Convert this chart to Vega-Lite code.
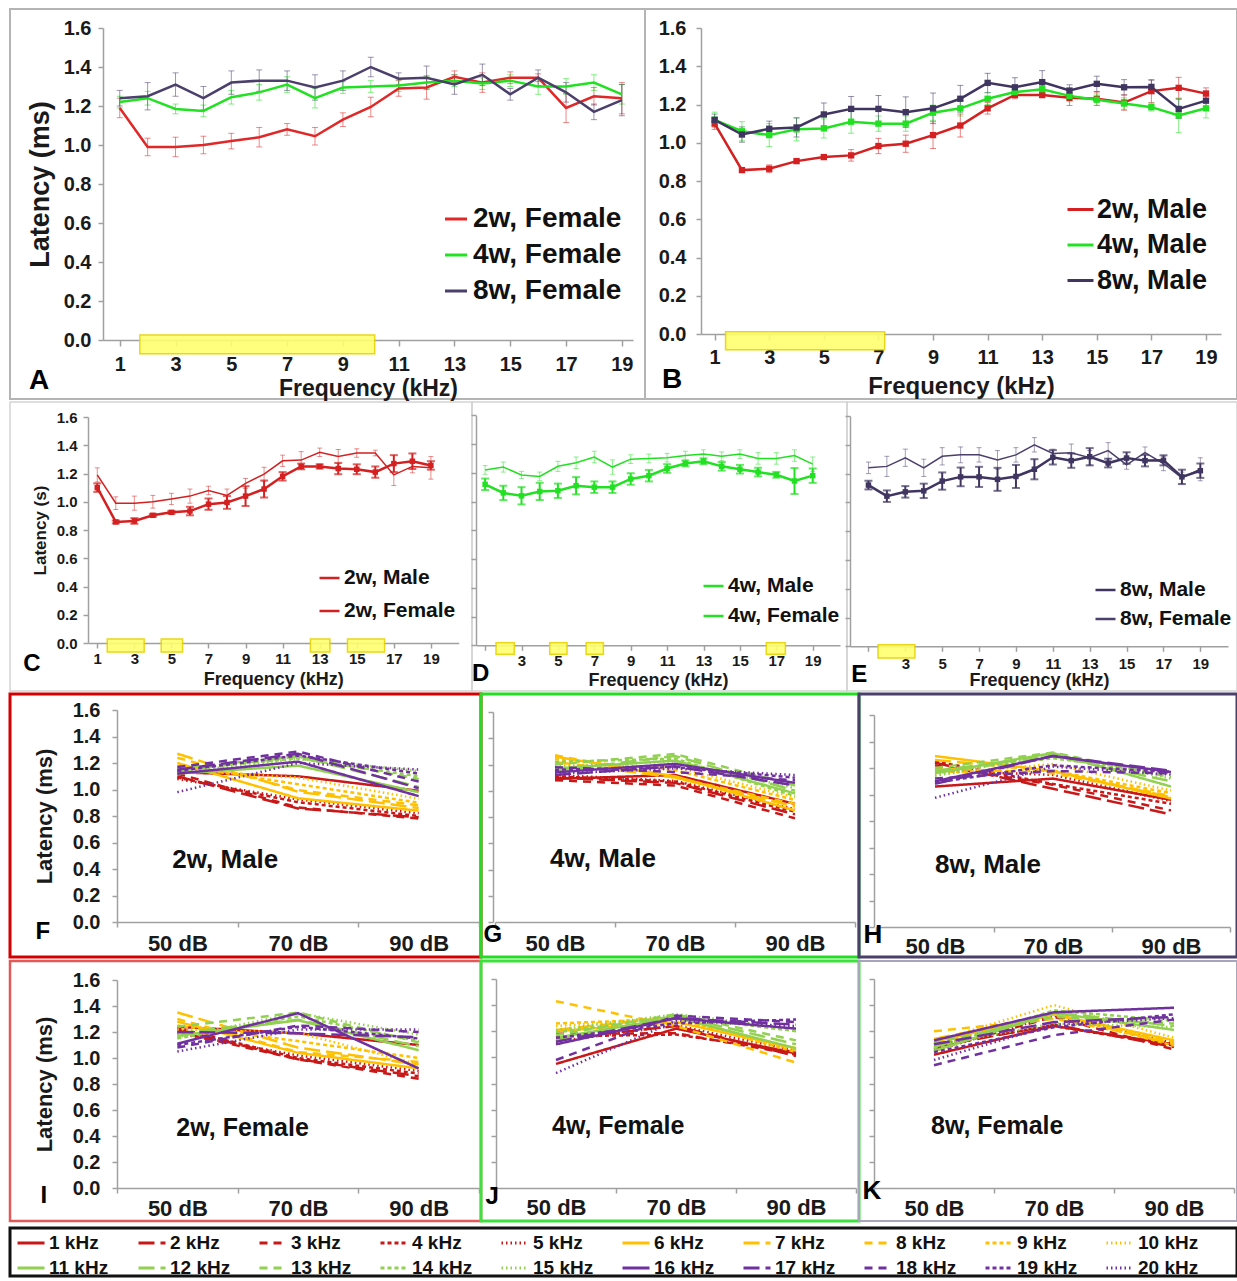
{
"$schema": "https://vega.github.io/schema/vega-lite/v6.json",
"padding": {"left": 8, "top": 8, "right": 0, "bottom": 0},
"config": {
 "font": "Liberation Sans",
 "view": {"stroke": null},
 "axis": {"grid": false, "domainColor": "#a0a0a0", "tickColor": "#a0a0a0", "domainWidth": 1.5, "tickWidth": 1.5, "labelColor": "#1a1a1a", "titleColor": "#1a1a1a", "labelFontWeight": "bold", "titleFontWeight": "bold", "labelFont": "Liberation Sans", "titleFont": "Liberation Sans", "labelAngle": 0, "labelOverlap": false, "labelFlush": false, "labelBound": false},
 "legend": {"labelFont": "Liberation Sans"}
},
"datasets": {
 "ab": [
  {"s":"2w, Female","f":1,"v":1.19,"e":0.05},{"s":"2w, Female","f":2,"v":0.99,"e":0.045},{"s":"2w, Female","f":3,"v":0.99,"e":0.05},{"s":"2w, Female","f":4,"v":1.0,"e":0.045},{"s":"2w, Female","f":5,"v":1.02,"e":0.04},{"s":"2w, Female","f":6,"v":1.04,"e":0.05},{"s":"2w, Female","f":7,"v":1.08,"e":0.03},{"s":"2w, Female","f":8,"v":1.045,"e":0.045},{"s":"2w, Female","f":9,"v":1.13,"e":0.035},{"s":"2w, Female","f":10,"v":1.195,"e":0.05},{"s":"2w, Female","f":11,"v":1.29,"e":0.04},{"s":"2w, Female","f":12,"v":1.295,"e":0.06},{"s":"2w, Female","f":13,"v":1.35,"e":0.03},{"s":"2w, Female","f":14,"v":1.32,"e":0.05},{"s":"2w, Female","f":15,"v":1.345,"e":0.03},{"s":"2w, Female","f":16,"v":1.345,"e":0.02},{"s":"2w, Female","f":17,"v":1.19,"e":0.075},{"s":"2w, Female","f":18,"v":1.25,"e":0.045},{"s":"2w, Female","f":19,"v":1.24,"e":0.08},
  {"s":"4w, Female","f":1,"v":1.22,"e":0.03},{"s":"4w, Female","f":2,"v":1.24,"e":0.035},{"s":"4w, Female","f":3,"v":1.185,"e":0.025},{"s":"4w, Female","f":4,"v":1.175,"e":0.03},{"s":"4w, Female","f":5,"v":1.245,"e":0.035},{"s":"4w, Female","f":6,"v":1.27,"e":0.04},{"s":"4w, Female","f":7,"v":1.31,"e":0.04},{"s":"4w, Female","f":8,"v":1.24,"e":0.05},{"s":"4w, Female","f":9,"v":1.295,"e":0.03},{"s":"4w, Female","f":10,"v":1.3,"e":0.03},{"s":"4w, Female","f":11,"v":1.305,"e":0.03},{"s":"4w, Female","f":12,"v":1.32,"e":0.03},{"s":"4w, Female","f":13,"v":1.33,"e":0.03},{"s":"4w, Female","f":14,"v":1.315,"e":0.03},{"s":"4w, Female","f":15,"v":1.33,"e":0.03},{"s":"4w, Female","f":16,"v":1.3,"e":0.04},{"s":"4w, Female","f":17,"v":1.3,"e":0.04},{"s":"4w, Female","f":18,"v":1.32,"e":0.04},{"s":"4w, Female","f":19,"v":1.26,"e":0.05},
  {"s":"8w, Female","f":1,"v":1.24,"e":0.04},{"s":"8w, Female","f":2,"v":1.25,"e":0.07},{"s":"8w, Female","f":3,"v":1.31,"e":0.06},{"s":"8w, Female","f":4,"v":1.24,"e":0.06},{"s":"8w, Female","f":5,"v":1.32,"e":0.06},{"s":"8w, Female","f":6,"v":1.33,"e":0.055},{"s":"8w, Female","f":7,"v":1.33,"e":0.05},{"s":"8w, Female","f":8,"v":1.295,"e":0.065},{"s":"8w, Female","f":9,"v":1.33,"e":0.05},{"s":"8w, Female","f":10,"v":1.4,"e":0.05},{"s":"8w, Female","f":11,"v":1.34,"e":0.03},{"s":"8w, Female","f":12,"v":1.345,"e":0.06},{"s":"8w, Female","f":13,"v":1.31,"e":0.05},{"s":"8w, Female","f":14,"v":1.36,"e":0.055},{"s":"8w, Female","f":15,"v":1.26,"e":0.03},{"s":"8w, Female","f":16,"v":1.345,"e":0.04},{"s":"8w, Female","f":17,"v":1.27,"e":0.05},{"s":"8w, Female","f":18,"v":1.17,"e":0.04},{"s":"8w, Female","f":19,"v":1.23,"e":0.08},
  {"s":"2w, Male","f":1,"v":1.1,"e":0.03},{"s":"2w, Male","f":2,"v":0.857,"e":0.01},{"s":"2w, Male","f":3,"v":0.864,"e":0.02},{"s":"2w, Male","f":4,"v":0.904,"e":0.01},{"s":"2w, Male","f":5,"v":0.925,"e":0.01},{"s":"2w, Male","f":6,"v":0.934,"e":0.03},{"s":"2w, Male","f":7,"v":0.983,"e":0.04},{"s":"2w, Male","f":8,"v":0.995,"e":0.045},{"s":"2w, Male","f":9,"v":1.04,"e":0.07},{"s":"2w, Male","f":10,"v":1.09,"e":0.06},{"s":"2w, Male","f":11,"v":1.18,"e":0.03},{"s":"2w, Male","f":12,"v":1.25,"e":0.02},{"s":"2w, Male","f":13,"v":1.25,"e":0.015},{"s":"2w, Male","f":14,"v":1.235,"e":0.04},{"s":"2w, Male","f":15,"v":1.23,"e":0.035},{"s":"2w, Male","f":16,"v":1.21,"e":0.04},{"s":"2w, Male","f":17,"v":1.27,"e":0.06},{"s":"2w, Male","f":18,"v":1.287,"e":0.055},{"s":"2w, Male","f":19,"v":1.257,"e":0.03},
  {"s":"4w, Male","f":1,"v":1.12,"e":0.04},{"s":"4w, Male","f":2,"v":1.06,"e":0.05},{"s":"4w, Male","f":3,"v":1.04,"e":0.06},{"s":"4w, Male","f":4,"v":1.07,"e":0.06},{"s":"4w, Male","f":5,"v":1.075,"e":0.05},{"s":"4w, Male","f":6,"v":1.11,"e":0.06},{"s":"4w, Male","f":7,"v":1.1,"e":0.04},{"s":"4w, Male","f":8,"v":1.1,"e":0.04},{"s":"4w, Male","f":9,"v":1.157,"e":0.04},{"s":"4w, Male","f":10,"v":1.18,"e":0.04},{"s":"4w, Male","f":11,"v":1.23,"e":0.03},{"s":"4w, Male","f":12,"v":1.265,"e":0.02},{"s":"4w, Male","f":13,"v":1.28,"e":0.02},{"s":"4w, Male","f":14,"v":1.245,"e":0.03},{"s":"4w, Male","f":15,"v":1.225,"e":0.03},{"s":"4w, Male","f":16,"v":1.205,"e":0.03},{"s":"4w, Male","f":17,"v":1.186,"e":0.02},{"s":"4w, Male","f":18,"v":1.143,"e":0.09},{"s":"4w, Male","f":19,"v":1.18,"e":0.05},
  {"s":"8w, Male","f":1,"v":1.12,"e":0.03},{"s":"8w, Male","f":2,"v":1.043,"e":0.04},{"s":"8w, Male","f":3,"v":1.073,"e":0.04},{"s":"8w, Male","f":4,"v":1.08,"e":0.05},{"s":"8w, Male","f":5,"v":1.148,"e":0.06},{"s":"8w, Male","f":6,"v":1.177,"e":0.065},{"s":"8w, Male","f":7,"v":1.177,"e":0.07},{"s":"8w, Male","f":8,"v":1.16,"e":0.08},{"s":"8w, Male","f":9,"v":1.18,"e":0.08},{"s":"8w, Male","f":10,"v":1.23,"e":0.07},{"s":"8w, Male","f":11,"v":1.313,"e":0.05},{"s":"8w, Male","f":12,"v":1.29,"e":0.05},{"s":"8w, Male","f":13,"v":1.317,"e":0.06},{"s":"8w, Male","f":14,"v":1.273,"e":0.03},{"s":"8w, Male","f":15,"v":1.308,"e":0.04},{"s":"8w, Male","f":16,"v":1.29,"e":0.04},{"s":"8w, Male","f":17,"v":1.292,"e":0.035},{"s":"8w, Male","f":18,"v":1.177,"e":0.05},{"s":"8w, Male","f":19,"v":1.22,"e":0.05}
 ],
 "sig": [
  {"p":"A","x1":1.72,"x2":10.14},
  {"p":"B","x1":1.4,"x2":7.23},
  {"p":"C","x1":1.54,"x2":3.53},{"p":"C","x1":4.45,"x2":5.6},{"p":"C","x1":12.5,"x2":13.55},{"p":"C","x1":14.5,"x2":16.5},
  {"p":"D","x1":1.6,"x2":2.6},{"p":"D","x1":4.55,"x2":5.5},{"p":"D","x1":6.55,"x2":7.5},{"p":"D","x1":16.45,"x2":17.5},
  {"p":"E","x1":1.52,"x2":3.52}
 ],
 "db": [
  {"p":"F","k":"1 kHz","50 dB":1.13,"70 dB":1.1,"90 dB":0.99},{"p":"F","k":"2 kHz","50 dB":1.1,"70 dB":0.857,"90 dB":0.79},{"p":"F","k":"3 kHz","50 dB":1.12,"70 dB":0.864,"90 dB":0.78},{"p":"F","k":"4 kHz","50 dB":1.09,"70 dB":0.904,"90 dB":0.8},{"p":"F","k":"5 kHz","50 dB":1.08,"70 dB":0.925,"90 dB":0.82},
  {"p":"F","k":"6 kHz","50 dB":1.2,"70 dB":0.934,"90 dB":0.84},{"p":"F","k":"7 kHz","50 dB":1.27,"70 dB":0.983,"90 dB":0.86},{"p":"F","k":"8 kHz","50 dB":1.24,"70 dB":0.995,"90 dB":0.88},{"p":"F","k":"9 kHz","50 dB":1.18,"70 dB":1.04,"90 dB":0.9},{"p":"F","k":"10 kHz","50 dB":1.15,"70 dB":1.09,"90 dB":0.93},
  {"p":"F","k":"11 kHz","50 dB":1.12,"70 dB":1.18,"90 dB":0.98},{"p":"F","k":"12 kHz","50 dB":1.14,"70 dB":1.25,"90 dB":1.02},{"p":"F","k":"13 kHz","50 dB":1.16,"70 dB":1.25,"90 dB":1.08},{"p":"F","k":"14 kHz","50 dB":1.15,"70 dB":1.235,"90 dB":1.1},{"p":"F","k":"15 kHz","50 dB":1.13,"70 dB":1.23,"90 dB":1.14},
  {"p":"F","k":"16 kHz","50 dB":1.12,"70 dB":1.21,"90 dB":0.95},{"p":"F","k":"17 kHz","50 dB":1.15,"70 dB":1.27,"90 dB":1.01},{"p":"F","k":"18 kHz","50 dB":1.17,"70 dB":1.287,"90 dB":1.06},{"p":"F","k":"19 kHz","50 dB":1.14,"70 dB":1.257,"90 dB":1.12},{"p":"F","k":"20 kHz","50 dB":0.98,"70 dB":1.2,"90 dB":1.15},
  {"p":"G","k":"1 kHz","50 dB":1.09,"70 dB":1.12,"90 dB":0.9},{"p":"G","k":"2 kHz","50 dB":1.1,"70 dB":1.06,"90 dB":0.82},{"p":"G","k":"3 kHz","50 dB":1.08,"70 dB":1.04,"90 dB":0.79},{"p":"G","k":"4 kHz","50 dB":1.11,"70 dB":1.07,"90 dB":0.84},{"p":"G","k":"5 kHz","50 dB":1.12,"70 dB":1.075,"90 dB":0.86},
  {"p":"G","k":"6 kHz","50 dB":1.26,"70 dB":1.11,"90 dB":0.85},{"p":"G","k":"7 kHz","50 dB":1.22,"70 dB":1.1,"90 dB":0.88},{"p":"G","k":"8 kHz","50 dB":1.27,"70 dB":1.1,"90 dB":0.9},{"p":"G","k":"9 kHz","50 dB":1.24,"70 dB":1.157,"90 dB":0.93},{"p":"G","k":"10 kHz","50 dB":1.2,"70 dB":1.18,"90 dB":0.95},
  {"p":"G","k":"11 kHz","50 dB":1.17,"70 dB":1.23,"90 dB":0.98},{"p":"G","k":"12 kHz","50 dB":1.15,"70 dB":1.265,"90 dB":1.0},{"p":"G","k":"13 kHz","50 dB":1.2,"70 dB":1.28,"90 dB":1.04},{"p":"G","k":"14 kHz","50 dB":1.22,"70 dB":1.245,"90 dB":0.96},{"p":"G","k":"15 kHz","50 dB":1.18,"70 dB":1.225,"90 dB":1.02},
  {"p":"G","k":"16 kHz","50 dB":1.14,"70 dB":1.205,"90 dB":1.06},{"p":"G","k":"17 kHz","50 dB":1.12,"70 dB":1.186,"90 dB":1.04},{"p":"G","k":"18 kHz","50 dB":1.18,"70 dB":1.143,"90 dB":1.08},{"p":"G","k":"19 kHz","50 dB":1.16,"70 dB":1.18,"90 dB":1.1},{"p":"G","k":"20 kHz","50 dB":1.13,"70 dB":1.17,"90 dB":1.12},
  {"p":"H","k":"1 kHz","50 dB":1.06,"70 dB":1.12,"90 dB":0.96},{"p":"H","k":"2 kHz","50 dB":1.24,"70 dB":1.043,"90 dB":0.85},{"p":"H","k":"3 kHz","50 dB":1.22,"70 dB":1.073,"90 dB":0.88},{"p":"H","k":"4 kHz","50 dB":1.25,"70 dB":1.08,"90 dB":0.93},{"p":"H","k":"5 kHz","50 dB":1.18,"70 dB":1.148,"90 dB":0.95},
  {"p":"H","k":"6 kHz","50 dB":1.29,"70 dB":1.177,"90 dB":0.97},{"p":"H","k":"7 kHz","50 dB":1.26,"70 dB":1.177,"90 dB":0.98},{"p":"H","k":"8 kHz","50 dB":1.2,"70 dB":1.16,"90 dB":0.99},{"p":"H","k":"9 kHz","50 dB":1.17,"70 dB":1.18,"90 dB":1.01},{"p":"H","k":"10 kHz","50 dB":1.15,"70 dB":1.23,"90 dB":1.03},
  {"p":"H","k":"11 kHz","50 dB":1.16,"70 dB":1.313,"90 dB":1.06},{"p":"H","k":"12 kHz","50 dB":1.18,"70 dB":1.29,"90 dB":1.1},{"p":"H","k":"13 kHz","50 dB":1.2,"70 dB":1.317,"90 dB":1.13},{"p":"H","k":"14 kHz","50 dB":1.17,"70 dB":1.273,"90 dB":1.16},{"p":"H","k":"15 kHz","50 dB":1.14,"70 dB":1.308,"90 dB":1.12},
  {"p":"H","k":"16 kHz","50 dB":1.1,"70 dB":1.29,"90 dB":1.17},{"p":"H","k":"17 kHz","50 dB":1.08,"70 dB":1.292,"90 dB":1.18},{"p":"H","k":"18 kHz","50 dB":1.12,"70 dB":1.177,"90 dB":1.16},{"p":"H","k":"19 kHz","50 dB":1.09,"70 dB":1.22,"90 dB":1.17},{"p":"H","k":"20 kHz","50 dB":0.975,"70 dB":1.21,"90 dB":1.15},
  {"p":"I","k":"1 kHz","50 dB":1.24,"70 dB":1.19,"90 dB":1.1},{"p":"I","k":"2 kHz","50 dB":1.22,"70 dB":0.99,"90 dB":0.86},{"p":"I","k":"3 kHz","50 dB":1.2,"70 dB":0.99,"90 dB":0.84},{"p":"I","k":"4 kHz","50 dB":1.23,"70 dB":1.0,"90 dB":0.88},{"p":"I","k":"5 kHz","50 dB":1.19,"70 dB":1.02,"90 dB":0.9},
  {"p":"I","k":"6 kHz","50 dB":1.28,"70 dB":1.04,"90 dB":0.92},{"p":"I","k":"7 kHz","50 dB":1.35,"70 dB":1.08,"90 dB":0.95},{"p":"I","k":"8 kHz","50 dB":1.3,"70 dB":1.045,"90 dB":0.97},{"p":"I","k":"9 kHz","50 dB":1.25,"70 dB":1.13,"90 dB":1.0},{"p":"I","k":"10 kHz","50 dB":1.22,"70 dB":1.195,"90 dB":0.95},
  {"p":"I","k":"11 kHz","50 dB":1.17,"70 dB":1.29,"90 dB":1.06},{"p":"I","k":"12 kHz","50 dB":1.19,"70 dB":1.295,"90 dB":1.09},{"p":"I","k":"13 kHz","50 dB":1.24,"70 dB":1.35,"90 dB":1.12},{"p":"I","k":"14 kHz","50 dB":1.15,"70 dB":1.32,"90 dB":1.13},{"p":"I","k":"15 kHz","50 dB":1.16,"70 dB":1.345,"90 dB":1.18},
  {"p":"I","k":"16 kHz","50 dB":1.11,"70 dB":1.345,"90 dB":0.92},{"p":"I","k":"17 kHz","50 dB":1.2,"70 dB":1.19,"90 dB":1.16},{"p":"I","k":"18 kHz","50 dB":1.08,"70 dB":1.25,"90 dB":1.2},{"p":"I","k":"19 kHz","50 dB":1.1,"70 dB":1.24,"90 dB":1.15},{"p":"I","k":"20 kHz","50 dB":1.05,"70 dB":1.22,"90 dB":1.22},
  {"p":"J","k":"1 kHz","50 dB":0.95,"70 dB":1.22,"90 dB":1.03},{"p":"J","k":"2 kHz","50 dB":1.14,"70 dB":1.24,"90 dB":1.01},{"p":"J","k":"3 kHz","50 dB":1.18,"70 dB":1.185,"90 dB":1.02},{"p":"J","k":"4 kHz","50 dB":1.16,"70 dB":1.175,"90 dB":1.04},{"p":"J","k":"5 kHz","50 dB":1.12,"70 dB":1.245,"90 dB":1.05},
  {"p":"J","k":"6 kHz","50 dB":1.2,"70 dB":1.27,"90 dB":1.07},{"p":"J","k":"7 kHz","50 dB":1.21,"70 dB":1.31,"90 dB":1.06},{"p":"J","k":"8 kHz","50 dB":1.43,"70 dB":1.24,"90 dB":0.96},{"p":"J","k":"9 kHz","50 dB":1.26,"70 dB":1.295,"90 dB":1.04},{"p":"J","k":"10 kHz","50 dB":1.24,"70 dB":1.3,"90 dB":1.05},
  {"p":"J","k":"11 kHz","50 dB":1.15,"70 dB":1.305,"90 dB":1.07},{"p":"J","k":"12 kHz","50 dB":1.13,"70 dB":1.32,"90 dB":1.1},{"p":"J","k":"13 kHz","50 dB":1.17,"70 dB":1.33,"90 dB":1.13},{"p":"J","k":"14 kHz","50 dB":1.19,"70 dB":1.315,"90 dB":1.2},{"p":"J","k":"15 kHz","50 dB":1.21,"70 dB":1.33,"90 dB":1.22},
  {"p":"J","k":"16 kHz","50 dB":1.1,"70 dB":1.3,"90 dB":1.22},{"p":"J","k":"17 kHz","50 dB":1.12,"70 dB":1.3,"90 dB":1.25},{"p":"J","k":"18 kHz","50 dB":0.98,"70 dB":1.32,"90 dB":1.27},{"p":"J","k":"19 kHz","50 dB":1.15,"70 dB":1.26,"90 dB":1.29},{"p":"J","k":"20 kHz","50 dB":0.88,"70 dB":1.28,"90 dB":1.24},
  {"p":"K","k":"1 kHz","50 dB":1.02,"70 dB":1.24,"90 dB":1.1},{"p":"K","k":"2 kHz","50 dB":1.08,"70 dB":1.25,"90 dB":1.08},{"p":"K","k":"3 kHz","50 dB":1.06,"70 dB":1.31,"90 dB":1.06},{"p":"K","k":"4 kHz","50 dB":1.1,"70 dB":1.24,"90 dB":1.09},{"p":"K","k":"5 kHz","50 dB":1.05,"70 dB":1.32,"90 dB":1.11},
  {"p":"K","k":"6 kHz","50 dB":1.12,"70 dB":1.33,"90 dB":1.13},{"p":"K","k":"7 kHz","50 dB":1.14,"70 dB":1.33,"90 dB":1.1},{"p":"K","k":"8 kHz","50 dB":1.2,"70 dB":1.295,"90 dB":1.12},{"p":"K","k":"9 kHz","50 dB":1.1,"70 dB":1.33,"90 dB":1.09},{"p":"K","k":"10 kHz","50 dB":1.12,"70 dB":1.4,"90 dB":1.15},
  {"p":"K","k":"11 kHz","50 dB":1.05,"70 dB":1.34,"90 dB":1.21},{"p":"K","k":"12 kHz","50 dB":1.08,"70 dB":1.345,"90 dB":1.24},{"p":"K","k":"13 kHz","50 dB":1.11,"70 dB":1.31,"90 dB":1.26},{"p":"K","k":"14 kHz","50 dB":1.07,"70 dB":1.36,"90 dB":1.28},{"p":"K","k":"15 kHz","50 dB":1.09,"70 dB":1.26,"90 dB":1.23},
  {"p":"K","k":"16 kHz","50 dB":1.13,"70 dB":1.345,"90 dB":1.38},{"p":"K","k":"17 kHz","50 dB":1.1,"70 dB":1.27,"90 dB":1.31},{"p":"K","k":"18 kHz","50 dB":0.94,"70 dB":1.17,"90 dB":1.29},{"p":"K","k":"19 kHz","50 dB":1.04,"70 dB":1.23,"90 dB":1.33},{"p":"K","k":"20 kHz","50 dB":0.98,"70 dB":1.25,"90 dB":1.3}
 ]
},
"spacing": 0,
"bounds": "full",
"resolve": {"scale": {"color": "independent", "strokeDash": "independent"}},
"vconcat": [
 {
  "spacing": 0, "bounds": "flush",
  "resolve": {"scale": {"color": "independent", "strokeDash": "independent"}},
  "hconcat": [
   {
    "width": 635, "height": 390,
    "view": {"stroke": "#b4b4b4", "strokeWidth": 2},
    "layer": [
     {"data": {"name": "sig"}, "transform": [{"filter": "datum.p == 'A'"}], "mark": {"type": "rect", "stroke": "#e8d400", "strokeWidth": 1.5, "opacity": 0.9},
      "encoding": {"x": {"field": "x1", "type": "quantitative", "title": "Frequency (kHz)"}, "x2": {"field": "x2"},
       "y": {"datum": 0.026, "axis": {"values": [0,0.2,0.4,0.6,0.8,1,1.2,1.4,1.6], "format": ".1f", "labelOverlap": false, "offset": -93, "tickSize": 5, "labelPadding": 7, "labelFontSize": 20, "title": "Latency (ms)", "titleFontSize": 27, "titlePadding": 9}},
       "y2": {"datum": -0.07}, "color": {"value": "#ffff70"}}},
     {"data": {"name": "ab"}, "transform": [{"filter": "indexof(datum.s, 'Female') >= 0"}],
      "encoding": {
       "x": {"field": "f", "type": "quantitative", "scale": {"domain": [0.4, 19.4], "range": [93, 623], "nice": false, "zero": false},
         "axis": {"values": [1,2,3,4,5,6,7,8,9,10,11,12,13,14,15,16,17,18,19], "labelExpr": "datum.value % 2 == 1 ? datum.label : ''", "offset": -59, "tickSize": 6, "labelPadding": 8, "labelFontSize": 20, "title": "Frequency (kHz)", "titleFontSize": 23, "titlePadding": 3}},
       "y": {"field": "v", "type": "quantitative", "scale": {"domain": [0, 1.6], "range": [331, 19], "nice": false, "zero": false},
         "axis": {"values": [0,0.2,0.4,0.6,0.8,1,1.2,1.4,1.6], "format": ".1f", "labelOverlap": false, "offset": -93, "tickSize": 5, "labelPadding": 7, "labelFontSize": 20, "title": "Latency (ms)", "titleFontSize": 27, "titlePadding": 9}},
       "color": {"field": "s", "type": "nominal", "scale": {"domain": ["2w, Female", "4w, Female", "8w, Female"], "range": ["#e02828", "#22e022", "#4b3f6b"]},
         "legend": {"orient": "none", "legendX": 432, "legendY": 196, "title": null, "symbolType": "stroke", "symbolSize": 484, "symbolStrokeWidth": 3, "symbolOpacity": 1, "labelFontSize": 28, "labelFontWeight": "bold", "labelColor": "#111", "labelOffset": 3, "rowPadding": 8, "padding": 0, "labelLimit": 400}}
      },
      "layer": [
       {"mark": {"type": "errorbar", "ticks": {"size": 6, "opacity": 0.55}, "rule": {"opacity": 0.55}, "thickness": 1}, "encoding": {"yError": {"field": "e"}}},
       {"mark": {"type": "line", "strokeWidth": 2.5}}
      ]},
     {"data": {"values": [{"t": "A"}]}, "mark": {"type": "text", "align": "left", "baseline": "alphabetic", "fontSize": 28, "fontWeight": "bold"},
      "encoding": {"x": {"datum": -2.25},
       "y": {"datum": -0.25, "axis": {"values": [0,0.2,0.4,0.6,0.8,1,1.2,1.4,1.6], "format": ".1f", "labelOverlap": false, "offset": -93, "tickSize": 5, "labelPadding": 7, "labelFontSize": 20, "title": "Latency (ms)", "titleFontSize": 27, "titlePadding": 9}},
       "text": {"field": "t"}, "color": {"value": "#000"}}}
    ]
   },
   {
    "width": 592, "height": 390,
    "view": {"stroke": "#b4b4b4", "strokeWidth": 2},
    "layer": [
     {"data": {"name": "sig"}, "transform": [{"filter": "datum.p == 'B'"}], "mark": {"type": "rect", "stroke": "#e8d400", "strokeWidth": 1.5, "opacity": 0.9},
      "encoding": {"x": {"field": "x1", "type": "quantitative", "title": "Frequency (kHz)"}, "x2": {"field": "x2"},
       "y": {"datum": 0.012, "axis": {"values": [0,0.2,0.4,0.6,0.8,1,1.2,1.4,1.6], "format": ".1f", "labelOverlap": false, "offset": -56, "tickSize": 5, "labelPadding": 10, "labelFontSize": 20, "title": null}},
       "y2": {"datum": -0.083}, "color": {"value": "#ffff70"}}},
     {"data": {"name": "ab"}, "transform": [{"filter": "indexof(datum.s, 'Male') >= 0"}],
      "encoding": {
       "x": {"field": "f", "type": "quantitative", "scale": {"domain": [0.5, 19.55], "range": [56, 576], "nice": false, "zero": false},
         "axis": {"values": [1,2,3,4,5,6,7,8,9,10,11,12,13,14,15,16,17,18,19], "labelExpr": "datum.value % 2 == 1 ? datum.label : ''", "offset": -65, "tickSize": 6, "labelPadding": 7, "labelFontSize": 20, "title": "Frequency (kHz)", "titleFontSize": 24, "titlePadding": 7}},
       "y": {"field": "v", "type": "quantitative", "scale": {"domain": [0, 1.6], "range": [325, 19], "nice": false, "zero": false},
         "axis": {"values": [0,0.2,0.4,0.6,0.8,1,1.2,1.4,1.6], "format": ".1f", "labelOverlap": false, "offset": -56, "tickSize": 5, "labelPadding": 10, "labelFontSize": 20, "title": null}},
       "color": {"field": "s", "type": "nominal", "scale": {"domain": ["2w, Male", "4w, Male", "8w, Male"], "range": ["#d42020", "#22e022", "#3f3560"]},
         "legend": {"orient": "none", "legendX": 421, "legendY": 186, "title": null, "symbolType": "stroke", "symbolSize": 676, "symbolStrokeWidth": 3, "symbolOpacity": 1, "labelFontSize": 27, "labelFontWeight": "bold", "labelColor": "#111", "labelOffset": 2, "rowPadding": 7.5, "padding": 0, "labelLimit": 400}}
      },
      "layer": [
       {"mark": {"type": "errorbar", "ticks": {"size": 6, "opacity": 0.55}, "rule": {"opacity": 0.55}, "thickness": 1}, "encoding": {"yError": {"field": "e"}}},
       {"mark": {"type": "line", "strokeWidth": 2.5}},
       {"mark": {"type": "square", "size": 40, "filled": true, "opacity": 1}}
      ]},
     {"data": {"values": [{"t": "B"}]}, "mark": {"type": "text", "align": "left", "baseline": "alphabetic", "fontSize": 28, "fontWeight": "bold"},
      "encoding": {"x": {"datum": -0.93},
       "y": {"datum": -0.28, "axis": {"values": [0,0.2,0.4,0.6,0.8,1,1.2,1.4,1.6], "format": ".1f", "labelOverlap": false, "offset": -56, "tickSize": 5, "labelPadding": 10, "labelFontSize": 20, "title": null}},
       "text": {"field": "t"}, "color": {"value": "#000"}}}
    ]
   }
  ]
 },
 {
  "spacing": 0, "bounds": "flush",
  "resolve": {"scale": {"color": "independent", "strokeDash": "independent"}},
  "hconcat": [
   {
    "width": 462, "height": 289,
    "view": {"stroke": "#d4d4d4", "strokeWidth": 1.5},
    "layer": [
     {"data": {"name": "sig"}, "transform": [{"filter": "datum.p == 'C'"}], "mark": {"type": "rect", "stroke": "#e8d400", "strokeWidth": 1.5, "opacity": 0.9},
      "encoding": {"x": {"field": "x1", "type": "quantitative", "title": "Frequency (kHz)"}, "x2": {"field": "x2"},
       "y": {"datum": 0.028, "axis": {"values": [0,0.2,0.4,0.6,0.8,1,1.2,1.4,1.6], "format": ".1f", "labelOverlap": false, "offset": -78, "tickSize": 5, "labelPadding": 6, "labelFontSize": 15, "title": "Latency (s)", "titleFontSize": 17, "titlePadding": 7}},
       "y2": {"datum": -0.064}, "color": {"value": "#ffff70"}}},
     {"data": {"name": "ab"}, "transform": [{"filter": "indexof(datum.s, '2w') == 0"}],
      "encoding": {
       "x": {"field": "f", "type": "quantitative", "scale": {"domain": [0.5, 20.5], "range": [78, 448.7], "nice": false, "zero": false},
         "axis": {"values": [1,2,3,4,5,6,7,8,9,10,11,12,13,14,15,16,17,18,19,20], "labelExpr": "datum.value % 2 == 1 ? datum.label : ''", "offset": -48, "tickSize": 5, "labelPadding": 3, "labelFontSize": 15, "title": "Frequency (kHz)", "titleFontSize": 18, "titlePadding": 4}},
       "y": {"field": "v", "type": "quantitative", "scale": {"domain": [0, 1.6], "range": [241, 15], "nice": false, "zero": false},
         "axis": {"values": [0,0.2,0.4,0.6,0.8,1,1.2,1.4,1.6], "format": ".1f", "labelOverlap": false, "offset": -78, "tickSize": 5, "labelPadding": 6, "labelFontSize": 15, "title": "Latency (s)", "titleFontSize": 17, "titlePadding": 7}},
       "color": {"field": "s", "type": "nominal", "scale": {"domain": ["2w, Male", "2w, Female"], "range": ["#d42020", "#d42020"]},
         "legend": {"orient": "none", "legendX": 308, "legendY": 164.5, "title": null, "symbolType": "stroke", "symbolSize": 400, "symbolStrokeWidth": 2.5, "symbolOpacity": 1, "labelFontSize": 21, "labelFontWeight": "bold", "labelColor": "#111", "labelOffset": 3, "rowPadding": 11, "padding": 0, "labelLimit": 400}}
      },
      "layer": [
       {"transform": [{"filter": "datum.s == '2w, Female'"}], "mark": {"type": "errorbar", "ticks": {"size": 5, "opacity": 0.5}, "rule": {"opacity": 0.5}, "thickness": 1}, "encoding": {"yError": {"field": "e"}}},
       {"transform": [{"filter": "datum.s == '2w, Male'"}], "mark": {"type": "errorbar", "ticks": {"size": 8}, "thickness": 2}, "encoding": {"yError": {"field": "e"}}},
       {"transform": [{"filter": "datum.s == '2w, Female'"}], "mark": {"type": "line", "strokeWidth": 1.5}},
       {"transform": [{"filter": "datum.s == '2w, Male'"}], "mark": {"type": "line", "strokeWidth": 2.5}},
       {"transform": [{"filter": "datum.s == '2w, Male'"}], "mark": {"type": "square", "size": 30, "filled": true, "opacity": 1}}
      ]},
     {"data": {"values": [{"t": "C"}]}, "mark": {"type": "text", "align": "left", "baseline": "alphabetic", "fontSize": 24, "fontWeight": "bold"},
      "encoding": {"x": {"datum": -3.0},
       "y": {"datum": -0.2, "axis": {"values": [0,0.2,0.4,0.6,0.8,1,1.2,1.4,1.6], "format": ".1f", "labelOverlap": false, "offset": -78, "tickSize": 5, "labelPadding": 6, "labelFontSize": 15, "title": "Latency (s)", "titleFontSize": 17, "titlePadding": 7}},
       "text": {"field": "t"}, "color": {"value": "#000"}}}
    ]
   },
   {
    "width": 375, "height": 289,
    "view": {"stroke": "#d4d4d4", "strokeWidth": 1.5},
    "layer": [
     {"data": {"name": "sig"}, "transform": [{"filter": "datum.p == 'D'"}], "mark": {"type": "rect", "stroke": "#e8d400", "strokeWidth": 1.5, "opacity": 0.9},
      "encoding": {"x": {"field": "x1", "type": "quantitative", "title": "Frequency (kHz)"}, "x2": {"field": "x2"},
       "y": {"datum": 0.018, "axis": {"values": [0,0.2,0.4,0.6,0.8,1,1.2,1.4,1.6], "labels": false, "offset": -4, "tickSize": 5, "title": null}},
       "y2": {"datum": -0.063}, "color": {"value": "#ffff70"}}},
     {"data": {"name": "ab"}, "transform": [{"filter": "indexof(datum.s, '4w') == 0"}],
      "encoding": {
       "x": {"field": "f", "type": "quantitative", "scale": {"domain": [0.5, 20.5], "range": [4, 368], "nice": false, "zero": false},
         "axis": {"values": [1,2,3,4,5,6,7,8,9,10,11,12,13,14,15,16,17,18,19,20], "labelExpr": "datum.value % 2 == 1 && datum.value > 1 ? datum.label : ''", "offset": -45.7, "tickSize": 5, "labelPadding": 3, "labelFontSize": 15, "title": "Frequency (kHz)", "titleFontSize": 18, "titlePadding": 3}},
       "y": {"field": "v", "type": "quantitative", "scale": {"domain": [0, 1.6], "range": [243.3, 13.3], "nice": false, "zero": false},
         "axis": {"values": [0,0.2,0.4,0.6,0.8,1,1.2,1.4,1.6], "labels": false, "offset": -4, "tickSize": 5, "title": null}},
       "color": {"field": "s", "type": "nominal", "scale": {"domain": ["4w, Male", "4w, Female"], "range": ["#22e022", "#22e022"]},
         "legend": {"orient": "none", "legendX": 230, "legendY": 172.5, "title": null, "symbolType": "stroke", "symbolSize": 400, "symbolStrokeWidth": 2.5, "symbolOpacity": 1, "labelFontSize": 21, "labelFontWeight": "bold", "labelColor": "#111", "labelOffset": 3, "rowPadding": 8, "padding": 0, "labelLimit": 400}}
      },
      "layer": [
       {"transform": [{"filter": "datum.s == '4w, Female'"}], "mark": {"type": "errorbar", "ticks": {"size": 5, "opacity": 0.5}, "rule": {"opacity": 0.5}, "thickness": 1}, "encoding": {"yError": {"field": "e"}}},
       {"transform": [{"filter": "datum.s == '4w, Male'"}], "mark": {"type": "errorbar", "ticks": {"size": 8}, "thickness": 2}, "encoding": {"yError": {"field": "e"}}},
       {"transform": [{"filter": "datum.s == '4w, Female'"}], "mark": {"type": "line", "strokeWidth": 1.5}},
       {"transform": [{"filter": "datum.s == '4w, Male'"}], "mark": {"type": "line", "strokeWidth": 2.5}},
       {"transform": [{"filter": "datum.s == '4w, Male'"}], "mark": {"type": "square", "size": 30, "filled": true, "opacity": 1}}
      ]},
     {"data": {"values": [{"t": "D"}]}, "mark": {"type": "text", "align": "left", "baseline": "alphabetic", "fontSize": 24, "fontWeight": "bold"},
      "encoding": {"x": {"datum": 0.28},
       "y": {"datum": -0.25, "axis": {"values": [0,0.2,0.4,0.6,0.8,1,1.2,1.4,1.6], "labels": false, "offset": -4, "tickSize": 5, "title": null}},
       "text": {"field": "t"}, "color": {"value": "#000"}}}
    ]
   },
   {
    "width": 390, "height": 289,
    "view": {"stroke": "#d4d4d4", "strokeWidth": 1.5},
    "layer": [
     {"data": {"name": "sig"}, "transform": [{"filter": "datum.p == 'E'"}], "mark": {"type": "rect", "stroke": "#e8d400", "strokeWidth": 1.5, "opacity": 0.9},
      "encoding": {"x": {"field": "x1", "type": "quantitative", "title": "Frequency (kHz)"}, "x2": {"field": "x2"},
       "y": {"datum": 0.011, "axis": {"values": [0,0.2,0.4,0.6,0.8,1,1.2,1.4,1.6], "labels": false, "offset": -3, "tickSize": 5, "title": null}},
       "y2": {"datum": -0.081}, "color": {"value": "#ffff70"}}},
     {"data": {"name": "ab"}, "transform": [{"filter": "indexof(datum.s, '8w') == 0"}],
      "encoding": {
       "x": {"field": "f", "type": "quantitative", "scale": {"domain": [0, 20.5], "range": [3, 381], "nice": false, "zero": false},
         "axis": {"values": [1,2,3,4,5,6,7,8,9,10,11,12,13,14,15,16,17,18,19,20], "labelExpr": "datum.value % 2 == 1 && datum.value > 1 ? datum.label : ''", "offset": -44.7, "tickSize": 5, "labelPadding": 5, "labelFontSize": 15, "title": "Frequency (kHz)", "titleFontSize": 18, "titlePadding": 0}},
       "y": {"field": "v", "type": "quantitative", "scale": {"domain": [0, 1.6], "range": [244.3, 14], "nice": false, "zero": false},
         "axis": {"values": [0,0.2,0.4,0.6,0.8,1,1.2,1.4,1.6], "labels": false, "offset": -3, "tickSize": 5, "title": null}},
       "color": {"field": "s", "type": "nominal", "scale": {"domain": ["8w, Male", "8w, Female"], "range": ["#3f3560", "#4b3f6b"]},
         "legend": {"orient": "none", "legendX": 247, "legendY": 176.5, "title": null, "symbolType": "stroke", "symbolSize": 400, "symbolStrokeWidth": 2.5, "symbolOpacity": 1, "labelFontSize": 21, "labelFontWeight": "bold", "labelColor": "#111", "labelOffset": 3, "rowPadding": 7, "padding": 0, "labelLimit": 400}}
      },
      "layer": [
       {"transform": [{"filter": "datum.s == '8w, Female'"}], "mark": {"type": "errorbar", "ticks": {"size": 5, "opacity": 0.5}, "rule": {"opacity": 0.5}, "thickness": 1}, "encoding": {"yError": {"field": "e"}}},
       {"transform": [{"filter": "datum.s == '8w, Male'"}], "mark": {"type": "errorbar", "ticks": {"size": 8}, "thickness": 2}, "encoding": {"yError": {"field": "e"}}},
       {"transform": [{"filter": "datum.s == '8w, Female'"}], "mark": {"type": "line", "strokeWidth": 1.5}},
       {"transform": [{"filter": "datum.s == '8w, Male'"}], "mark": {"type": "line", "strokeWidth": 2.5}},
       {"transform": [{"filter": "datum.s == '8w, Male'"}], "mark": {"type": "square", "size": 30, "filled": true, "opacity": 1}}
      ]},
     {"data": {"values": [{"t": "E"}]}, "mark": {"type": "text", "align": "left", "baseline": "alphabetic", "fontSize": 24, "fontWeight": "bold"},
      "encoding": {"x": {"datum": 0.07},
       "y": {"datum": -0.25, "axis": {"values": [0,0.2,0.4,0.6,0.8,1,1.2,1.4,1.6], "labels": false, "offset": -3, "tickSize": 5, "title": null}},
       "text": {"field": "t"}, "color": {"value": "#000"}}}
    ]
   }
  ]
 },
 {
  "spacing": 0, "bounds": "flush",
  "resolve": {"scale": {"color": "independent", "strokeDash": "independent"}},
  "hconcat": [
   {
    "width": 471, "height": 263,
    "view": {"stroke": "#d40000", "strokeWidth": 3},
    "layer": [
     {"data": {"name": "db"}, "transform": [{"filter": "datum.p == 'F'"}, {"fold": ["50 dB", "70 dB", "90 dB"], "as": ["db", "v"]}],
      "mark": {"type": "line", "strokeWidth": 2.5},
      "encoding": {
       "x": {"field": "db", "type": "nominal", "bandPosition": 0.5, "scale": {"type": "band", "domain": ["50 dB", "70 dB", "90 dB"], "range": [107, 469], "paddingInner": 0, "paddingOuter": 0},
         "axis": {"offset": -35, "tickBand": "extent", "tickSize": 5, "labelPadding": 6, "labelFontSize": 22, "title": null}},
       "y": {"field": "v", "type": "quantitative", "scale": {"domain": [0, 1.6], "range": [228, 16], "nice": false, "zero": false},
         "axis": {"values": [0,0.2,0.4,0.6,0.8,1,1.2,1.4,1.6], "format": ".1f", "labelOverlap": false, "offset": -107, "tickSize": 5, "labelPadding": 12, "labelFontSize": 20, "title": "Latency (ms)", "titleFontSize": 22, "titlePadding": 16}},
       "color": {"field": "k", "type": "nominal", "legend": null, "scale": {"domain": ["1 kHz","2 kHz","3 kHz","4 kHz","5 kHz","6 kHz","7 kHz","8 kHz","9 kHz","10 kHz","11 kHz","12 kHz","13 kHz","14 kHz","15 kHz","16 kHz","17 kHz","18 kHz","19 kHz","20 kHz"], "range": ["#c81818","#c81818","#c81818","#c81818","#c81818","#ffc000","#ffc000","#ffc000","#ffc000","#ffc000","#92d050","#92d050","#92d050","#92d050","#92d050","#7030a0","#7030a0","#7030a0","#7030a0","#7030a0"]}},
       "strokeDash": {"field": "k", "type": "nominal", "legend": null, "scale": {"domain": ["1 kHz","2 kHz","3 kHz","4 kHz","5 kHz","6 kHz","7 kHz","8 kHz","9 kHz","10 kHz","11 kHz","12 kHz","13 kHz","14 kHz","15 kHz","16 kHz","17 kHz","18 kHz","19 kHz","20 kHz"], "range": [[1,0],[16,6],[8,6],[4,3],[1.5,3],[1,0],[16,6],[8,6],[4,3],[1.5,3],[1,0],[16,6],[8,6],[4,3],[1.5,3],[1,0],[16,6],[8,6],[4,3],[1.5,3]]}}
      }},
     {"data": {"values": [{"t": "2w, Male"}]}, "mark": {"type": "text", "align": "left", "baseline": "middle", "fontSize": 26, "fontWeight": "bold", "color": "#111", "dx": -5},
      "encoding": {"x": {"datum": "50 dB", "bandPosition": 0.5},
       "y": {"datum": 0.468, "axis": {"values": [0,0.2,0.4,0.6,0.8,1,1.2,1.4,1.6], "format": ".1f", "labelOverlap": false, "offset": -107, "tickSize": 5, "labelPadding": 12, "labelFontSize": 20, "title": "Latency (ms)", "titleFontSize": 22, "titlePadding": 16}},
       "text": {"field": "t"}}},
     {"data": {"values": [{"t": "F"}]}, "mark": {"type": "text", "align": "left", "baseline": "alphabetic", "fontSize": 24, "fontWeight": "bold", "color": "#000", "dx": -81.5},
      "encoding": {"x": {"datum": "50 dB", "bandPosition": 0},
       "y": {"datum": -0.125, "axis": {"values": [0,0.2,0.4,0.6,0.8,1,1.2,1.4,1.6], "format": ".1f", "labelOverlap": false, "offset": -107, "tickSize": 5, "labelPadding": 12, "labelFontSize": 20, "title": "Latency (ms)", "titleFontSize": 22, "titlePadding": 16}},
       "text": {"field": "t"}}}
    ]
   },
   {
    "width": 378, "height": 263,
    "view": {"stroke": "#22dd22", "strokeWidth": 3},
    "layer": [
     {"data": {"name": "db"}, "transform": [{"filter": "datum.p == 'G'"}, {"fold": ["50 dB", "70 dB", "90 dB"], "as": ["db", "v"]}],
      "mark": {"type": "line", "strokeWidth": 2.5},
      "encoding": {
       "x": {"field": "db", "type": "nominal", "bandPosition": 0.5, "scale": {"type": "band", "domain": ["50 dB", "70 dB", "90 dB"], "range": [14, 374], "paddingInner": 0, "paddingOuter": 0},
         "axis": {"offset": -35, "tickBand": "extent", "tickSize": 5, "labelPadding": 6, "labelFontSize": 22, "title": null}},
       "y": {"field": "v", "type": "quantitative", "scale": {"domain": [0, 1.6], "range": [228, 18], "nice": false, "zero": false},
         "axis": {"values": [0,0.2,0.4,0.6,0.8,1,1.2,1.4,1.6], "labels": false, "offset": -12, "tickSize": 5, "title": null}},
       "color": {"field": "k", "type": "nominal", "legend": null, "scale": {"domain": ["1 kHz","2 kHz","3 kHz","4 kHz","5 kHz","6 kHz","7 kHz","8 kHz","9 kHz","10 kHz","11 kHz","12 kHz","13 kHz","14 kHz","15 kHz","16 kHz","17 kHz","18 kHz","19 kHz","20 kHz"], "range": ["#c81818","#c81818","#c81818","#c81818","#c81818","#ffc000","#ffc000","#ffc000","#ffc000","#ffc000","#92d050","#92d050","#92d050","#92d050","#92d050","#7030a0","#7030a0","#7030a0","#7030a0","#7030a0"]}},
       "strokeDash": {"field": "k", "type": "nominal", "legend": null, "scale": {"domain": ["1 kHz","2 kHz","3 kHz","4 kHz","5 kHz","6 kHz","7 kHz","8 kHz","9 kHz","10 kHz","11 kHz","12 kHz","13 kHz","14 kHz","15 kHz","16 kHz","17 kHz","18 kHz","19 kHz","20 kHz"], "range": [[1,0],[16,6],[8,6],[4,3],[1.5,3],[1,0],[16,6],[8,6],[4,3],[1.5,3],[1,0],[16,6],[8,6],[4,3],[1.5,3],[1,0],[16,6],[8,6],[4,3],[1.5,3]]}}
      }},
     {"data": {"values": [{"t": "4w, Male"}]}, "mark": {"type": "text", "align": "left", "baseline": "middle", "fontSize": 26, "fontWeight": "bold", "color": "#111", "dx": -5},
      "encoding": {"x": {"datum": "50 dB", "bandPosition": 0.5},
       "y": {"datum": 0.48, "axis": {"values": [0,0.2,0.4,0.6,0.8,1,1.2,1.4,1.6], "labels": false, "offset": -12, "tickSize": 5, "title": null}},
       "text": {"field": "t"}}},
     {"data": {"values": [{"t": "G"}]}, "mark": {"type": "text", "align": "left", "baseline": "alphabetic", "fontSize": 24, "fontWeight": "bold", "color": "#000", "dx": -11.5},
      "encoding": {"x": {"datum": "50 dB", "bandPosition": 0},
       "y": {"datum": -0.156, "axis": {"values": [0,0.2,0.4,0.6,0.8,1,1.2,1.4,1.6], "labels": false, "offset": -12, "tickSize": 5, "title": null}},
       "text": {"field": "t"}}}
    ]
   },
   {
    "width": 378, "height": 263,
    "view": {"stroke": "#4b3f6b", "strokeWidth": 3},
    "layer": [
     {"data": {"name": "db"}, "transform": [{"filter": "datum.p == 'H'"}, {"fold": ["50 dB", "70 dB", "90 dB"], "as": ["db", "v"]}],
      "mark": {"type": "line", "strokeWidth": 2.5},
      "encoding": {
       "x": {"field": "db", "type": "nominal", "bandPosition": 0.5, "scale": {"type": "band", "domain": ["50 dB", "70 dB", "90 dB"], "range": [17, 371], "paddingInner": 0, "paddingOuter": 0},
         "axis": {"offset": -30, "tickBand": "extent", "tickSize": 5, "labelPadding": 4, "labelFontSize": 22, "title": null}},
       "y": {"field": "v", "type": "quantitative", "scale": {"domain": [0, 1.6], "range": [233, 21], "nice": false, "zero": false},
         "axis": {"values": [0,0.2,0.4,0.6,0.8,1,1.2,1.4,1.6], "labels": false, "offset": -15, "tickSize": 5, "title": null}},
       "color": {"field": "k", "type": "nominal", "legend": null, "scale": {"domain": ["1 kHz","2 kHz","3 kHz","4 kHz","5 kHz","6 kHz","7 kHz","8 kHz","9 kHz","10 kHz","11 kHz","12 kHz","13 kHz","14 kHz","15 kHz","16 kHz","17 kHz","18 kHz","19 kHz","20 kHz"], "range": ["#c81818","#c81818","#c81818","#c81818","#c81818","#ffc000","#ffc000","#ffc000","#ffc000","#ffc000","#92d050","#92d050","#92d050","#92d050","#92d050","#7030a0","#7030a0","#7030a0","#7030a0","#7030a0"]}},
       "strokeDash": {"field": "k", "type": "nominal", "legend": null, "scale": {"domain": ["1 kHz","2 kHz","3 kHz","4 kHz","5 kHz","6 kHz","7 kHz","8 kHz","9 kHz","10 kHz","11 kHz","12 kHz","13 kHz","14 kHz","15 kHz","16 kHz","17 kHz","18 kHz","19 kHz","20 kHz"], "range": [[1,0],[16,6],[8,6],[4,3],[1.5,3],[1,0],[16,6],[8,6],[4,3],[1.5,3],[1,0],[16,6],[8,6],[4,3],[1.5,3],[1,0],[16,6],[8,6],[4,3],[1.5,3]]}}
      }},
     {"data": {"values": [{"t": "8w, Male"}]}, "mark": {"type": "text", "align": "left", "baseline": "middle", "fontSize": 26, "fontWeight": "bold", "color": "#111", "dx": 0},
      "encoding": {"x": {"datum": "50 dB", "bandPosition": 0.5},
       "y": {"datum": 0.468, "axis": {"values": [0,0.2,0.4,0.6,0.8,1,1.2,1.4,1.6], "labels": false, "offset": -15, "tickSize": 5, "title": null}},
       "text": {"field": "t"}}},
     {"data": {"values": [{"t": "H"}]}, "mark": {"type": "text", "align": "left", "baseline": "alphabetic", "fontSize": 26, "fontWeight": "bold", "color": "#000", "dx": -12.5},
      "encoding": {"x": {"datum": "50 dB", "bandPosition": 0},
       "y": {"datum": -0.117, "axis": {"values": [0,0.2,0.4,0.6,0.8,1,1.2,1.4,1.6], "labels": false, "offset": -15, "tickSize": 5, "title": null}},
       "text": {"field": "t"}}}
    ]
   }
  ]
 },
 {
  "spacing": 0, "bounds": "flush",
  "resolve": {"scale": {"color": "independent", "strokeDash": "independent"}},
  "hconcat": [
   {
    "width": 471, "height": 260,
    "view": {"stroke": "#e05a5a", "strokeWidth": 2.5},
    "layer": [
     {"data": {"name": "db"}, "transform": [{"filter": "datum.p == 'I'"}, {"fold": ["50 dB", "70 dB", "90 dB"], "as": ["db", "v"]}],
      "mark": {"type": "line", "strokeWidth": 2.5},
      "encoding": {
       "x": {"field": "db", "type": "nominal", "bandPosition": 0.5, "scale": {"type": "band", "domain": ["50 dB", "70 dB", "90 dB"], "range": [107, 469], "paddingInner": 0, "paddingOuter": 0},
         "axis": {"offset": -33, "tickBand": "extent", "tickSize": 5, "labelPadding": 5, "labelFontSize": 22, "title": null}},
       "y": {"field": "v", "type": "quantitative", "scale": {"domain": [0, 1.6], "range": [227, 19], "nice": false, "zero": false},
         "axis": {"values": [0,0.2,0.4,0.6,0.8,1,1.2,1.4,1.6], "format": ".1f", "labelOverlap": false, "offset": -107, "tickSize": 5, "labelPadding": 12, "labelFontSize": 20, "title": "Latency (ms)", "titleFontSize": 22, "titlePadding": 16}},
       "color": {"field": "k", "type": "nominal", "legend": null, "scale": {"domain": ["1 kHz","2 kHz","3 kHz","4 kHz","5 kHz","6 kHz","7 kHz","8 kHz","9 kHz","10 kHz","11 kHz","12 kHz","13 kHz","14 kHz","15 kHz","16 kHz","17 kHz","18 kHz","19 kHz","20 kHz"], "range": ["#c81818","#c81818","#c81818","#c81818","#c81818","#ffc000","#ffc000","#ffc000","#ffc000","#ffc000","#92d050","#92d050","#92d050","#92d050","#92d050","#7030a0","#7030a0","#7030a0","#7030a0","#7030a0"]}},
       "strokeDash": {"field": "k", "type": "nominal", "legend": null, "scale": {"domain": ["1 kHz","2 kHz","3 kHz","4 kHz","5 kHz","6 kHz","7 kHz","8 kHz","9 kHz","10 kHz","11 kHz","12 kHz","13 kHz","14 kHz","15 kHz","16 kHz","17 kHz","18 kHz","19 kHz","20 kHz"], "range": [[1,0],[16,6],[8,6],[4,3],[1.5,3],[1,0],[16,6],[8,6],[4,3],[1.5,3],[1,0],[16,6],[8,6],[4,3],[1.5,3],[1,0],[16,6],[8,6],[4,3],[1.5,3]]}}
      }},
     {"data": {"values": [{"t": "2w, Female"}]}, "mark": {"type": "text", "align": "left", "baseline": "middle", "fontSize": 25, "fontWeight": "bold", "color": "#111", "dx": -1},
      "encoding": {"x": {"datum": "50 dB", "bandPosition": 0.5},
       "y": {"datum": 0.46, "axis": {"values": [0,0.2,0.4,0.6,0.8,1,1.2,1.4,1.6], "format": ".1f", "labelOverlap": false, "offset": -107, "tickSize": 5, "labelPadding": 12, "labelFontSize": 20, "title": "Latency (ms)", "titleFontSize": 22, "titlePadding": 16}},
       "text": {"field": "t"}}},
     {"data": {"values": [{"t": "I"}]}, "mark": {"type": "text", "align": "left", "baseline": "alphabetic", "fontSize": 24, "fontWeight": "bold", "color": "#000", "dx": -76.5},
      "encoding": {"x": {"datum": "50 dB", "bandPosition": 0},
       "y": {"datum": -0.119, "axis": {"values": [0,0.2,0.4,0.6,0.8,1,1.2,1.4,1.6], "format": ".1f", "labelOverlap": false, "offset": -107, "tickSize": 5, "labelPadding": 12, "labelFontSize": 20, "title": "Latency (ms)", "titleFontSize": 22, "titlePadding": 16}},
       "text": {"field": "t"}}}
    ]
   },
   {
    "width": 378, "height": 260,
    "view": {"stroke": "#3ee03e", "strokeWidth": 3},
    "layer": [
     {"data": {"name": "db"}, "transform": [{"filter": "datum.p == 'J'"}, {"fold": ["50 dB", "70 dB", "90 dB"], "as": ["db", "v"]}],
      "mark": {"type": "line", "strokeWidth": 2.5},
      "encoding": {
       "x": {"field": "db", "type": "nominal", "bandPosition": 0.5, "scale": {"type": "band", "domain": ["50 dB", "70 dB", "90 dB"], "range": [15, 375], "paddingInner": 0, "paddingOuter": 0},
         "axis": {"offset": -33, "tickBand": "extent", "tickSize": 5, "labelPadding": 4, "labelFontSize": 22, "title": null}},
       "y": {"field": "v", "type": "quantitative", "scale": {"domain": [0, 1.6], "range": [227, 18], "nice": false, "zero": false},
         "axis": {"values": [0,0.2,0.4,0.6,0.8,1,1.2,1.4,1.6], "labels": false, "offset": -15, "tickSize": 5, "title": null}},
       "color": {"field": "k", "type": "nominal", "legend": null, "scale": {"domain": ["1 kHz","2 kHz","3 kHz","4 kHz","5 kHz","6 kHz","7 kHz","8 kHz","9 kHz","10 kHz","11 kHz","12 kHz","13 kHz","14 kHz","15 kHz","16 kHz","17 kHz","18 kHz","19 kHz","20 kHz"], "range": ["#c81818","#c81818","#c81818","#c81818","#c81818","#ffc000","#ffc000","#ffc000","#ffc000","#ffc000","#92d050","#92d050","#92d050","#92d050","#92d050","#7030a0","#7030a0","#7030a0","#7030a0","#7030a0"]}},
       "strokeDash": {"field": "k", "type": "nominal", "legend": null, "scale": {"domain": ["1 kHz","2 kHz","3 kHz","4 kHz","5 kHz","6 kHz","7 kHz","8 kHz","9 kHz","10 kHz","11 kHz","12 kHz","13 kHz","14 kHz","15 kHz","16 kHz","17 kHz","18 kHz","19 kHz","20 kHz"], "range": [[1,0],[16,6],[8,6],[4,3],[1.5,3],[1,0],[16,6],[8,6],[4,3],[1.5,3],[1,0],[16,6],[8,6],[4,3],[1.5,3],[1,0],[16,6],[8,6],[4,3],[1.5,3]]}}
      }},
     {"data": {"values": [{"t": "4w, Female"}]}, "mark": {"type": "text", "align": "left", "baseline": "middle", "fontSize": 25, "fontWeight": "bold", "color": "#111", "dx": -4},
      "encoding": {"x": {"datum": "50 dB", "bandPosition": 0.5},
       "y": {"datum": 0.477, "axis": {"values": [0,0.2,0.4,0.6,0.8,1,1.2,1.4,1.6], "labels": false, "offset": -15, "tickSize": 5, "title": null}},
       "text": {"field": "t"}}},
     {"data": {"values": [{"t": "J"}]}, "mark": {"type": "text", "align": "left", "baseline": "alphabetic", "fontSize": 24, "fontWeight": "bold", "color": "#000", "dx": -10.5},
      "encoding": {"x": {"datum": "50 dB", "bandPosition": 0},
       "y": {"datum": -0.119, "axis": {"values": [0,0.2,0.4,0.6,0.8,1,1.2,1.4,1.6], "labels": false, "offset": -15, "tickSize": 5, "title": null}},
       "text": {"field": "t"}}}
    ]
   },
   {
    "width": 378, "height": 260,
    "view": {"stroke": "#a8a4bc", "strokeWidth": 2},
    "layer": [
     {"data": {"name": "db"}, "transform": [{"filter": "datum.p == 'K'"}, {"fold": ["50 dB", "70 dB", "90 dB"], "as": ["db", "v"]}],
      "mark": {"type": "line", "strokeWidth": 2.5},
      "encoding": {
       "x": {"field": "db", "type": "nominal", "bandPosition": 0.5, "scale": {"type": "band", "domain": ["50 dB", "70 dB", "90 dB"], "range": [15, 375], "paddingInner": 0, "paddingOuter": 0},
         "axis": {"offset": -33, "tickBand": "extent", "tickSize": 5, "labelPadding": 5, "labelFontSize": 22, "title": null}},
       "y": {"field": "v", "type": "quantitative", "scale": {"domain": [0, 1.6], "range": [227, 18], "nice": false, "zero": false},
         "axis": {"values": [0,0.2,0.4,0.6,0.8,1,1.2,1.4,1.6], "labels": false, "offset": -15, "tickSize": 5, "title": null}},
       "color": {"field": "k", "type": "nominal", "legend": null, "scale": {"domain": ["1 kHz","2 kHz","3 kHz","4 kHz","5 kHz","6 kHz","7 kHz","8 kHz","9 kHz","10 kHz","11 kHz","12 kHz","13 kHz","14 kHz","15 kHz","16 kHz","17 kHz","18 kHz","19 kHz","20 kHz"], "range": ["#c81818","#c81818","#c81818","#c81818","#c81818","#ffc000","#ffc000","#ffc000","#ffc000","#ffc000","#92d050","#92d050","#92d050","#92d050","#92d050","#7030a0","#7030a0","#7030a0","#7030a0","#7030a0"]}},
       "strokeDash": {"field": "k", "type": "nominal", "legend": null, "scale": {"domain": ["1 kHz","2 kHz","3 kHz","4 kHz","5 kHz","6 kHz","7 kHz","8 kHz","9 kHz","10 kHz","11 kHz","12 kHz","13 kHz","14 kHz","15 kHz","16 kHz","17 kHz","18 kHz","19 kHz","20 kHz"], "range": [[1,0],[16,6],[8,6],[4,3],[1.5,3],[1,0],[16,6],[8,6],[4,3],[1.5,3],[1,0],[16,6],[8,6],[4,3],[1.5,3],[1,0],[16,6],[8,6],[4,3],[1.5,3]]}}
      }},
     {"data": {"values": [{"t": "8w, Female"}]}, "mark": {"type": "text", "align": "left", "baseline": "middle", "fontSize": 25, "fontWeight": "bold", "color": "#111", "dx": -3},
      "encoding": {"x": {"datum": "50 dB", "bandPosition": 0.5},
       "y": {"datum": 0.477, "axis": {"values": [0,0.2,0.4,0.6,0.8,1,1.2,1.4,1.6], "labels": false, "offset": -15, "tickSize": 5, "title": null}},
       "text": {"field": "t"}}},
     {"data": {"values": [{"t": "K"}]}, "mark": {"type": "text", "align": "left", "baseline": "alphabetic", "fontSize": 26, "fontWeight": "bold", "color": "#000", "dx": -11.5},
      "encoding": {"x": {"datum": "50 dB", "bandPosition": 0},
       "y": {"datum": -0.088, "axis": {"values": [0,0.2,0.4,0.6,0.8,1,1.2,1.4,1.6], "labels": false, "offset": -15, "tickSize": 5, "title": null}},
       "text": {"field": "t"}}}
    ]
   }
  ]
 },
 {
  "width": 1227, "height": 48,
  "view": {"stroke": "#111", "strokeWidth": 3},
  "data": {"name": "db"},
  "transform": [{"filter": "datum.p == 'F'"}],
  "mark": {"type": "line"},
  "encoding": {
   "x": {"field": "k", "type": "nominal", "axis": null},
   "y": {"field": "50 dB", "type": "quantitative", "axis": null},
   "color": {"field": "k", "type": "nominal", "scale": {"domain": ["1 kHz","2 kHz","3 kHz","4 kHz","5 kHz","6 kHz","7 kHz","8 kHz","9 kHz","10 kHz","11 kHz","12 kHz","13 kHz","14 kHz","15 kHz","16 kHz","17 kHz","18 kHz","19 kHz","20 kHz"], "range": ["#c81818","#c81818","#c81818","#c81818","#c81818","#ffc000","#ffc000","#ffc000","#ffc000","#ffc000","#92d050","#92d050","#92d050","#92d050","#92d050","#7030a0","#7030a0","#7030a0","#7030a0","#7030a0"]},
     "legend": {"orient": "none", "legendX": 6, "legendY": 0, "direction": "horizontal", "columns": 10, "title": null, "symbolType": "stroke", "symbolSize": 729, "symbolStrokeWidth": 3, "symbolOpacity": 1, "labelFontSize": 19, "labelFontWeight": "bold", "labelColor": "#111", "labelOffset": 3, "columnPadding": 22, "rowPadding": -3, "gridAlign": "all", "padding": 0, "labelLimit": 200}},
   "strokeDash": {"field": "k", "type": "nominal", "scale": {"domain": ["1 kHz","2 kHz","3 kHz","4 kHz","5 kHz","6 kHz","7 kHz","8 kHz","9 kHz","10 kHz","11 kHz","12 kHz","13 kHz","14 kHz","15 kHz","16 kHz","17 kHz","18 kHz","19 kHz","20 kHz"], "range": [[1,0],[16,6],[8,6],[4,3],[1.5,3],[1,0],[16,6],[8,6],[4,3],[1.5,3],[1,0],[16,6],[8,6],[4,3],[1.5,3],[1,0],[16,6],[8,6],[4,3],[1.5,3]]}}
  }
 }
]
}
